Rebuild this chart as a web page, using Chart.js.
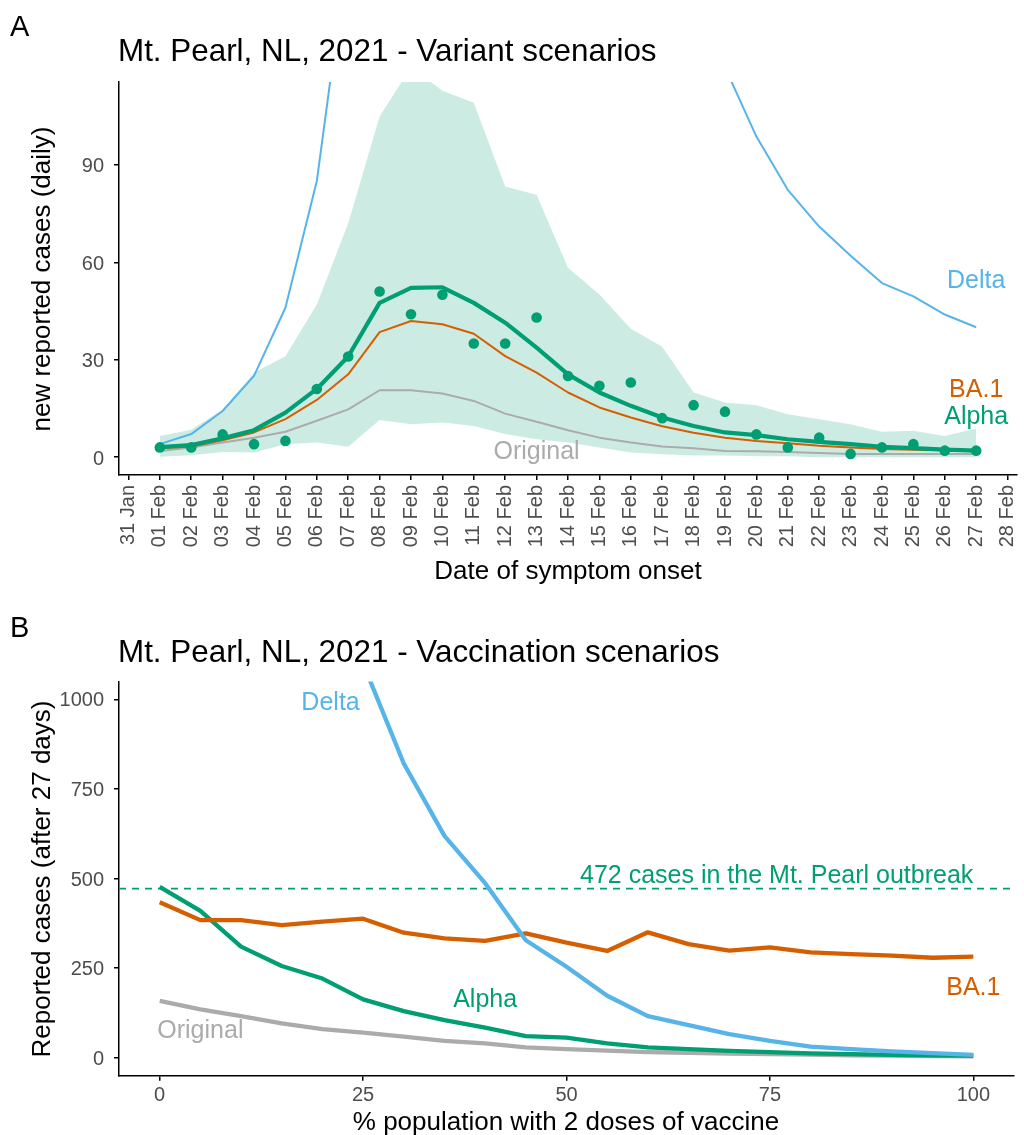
<!DOCTYPE html>
<html><head><meta charset="utf-8">
<script src="https://cdn.jsdelivr.net/npm/chart.js@4.4.1/dist/chart.umd.min.js"></script>
<style>
body{margin:0;background:#fff;width:1024px;height:1135px;position:relative;overflow:hidden;font-family:"Liberation Sans",Arial,sans-serif;}
.t{position:absolute;line-height:1;white-space:nowrap;color:#000;}
.c{transform:translateX(-50%);}
.r{transform:translate(-50%,-50%) rotate(-90deg);}
canvas{position:absolute;left:0;}
</style></head><body>
<canvas id="c1" width="1024" height="600" style="top:0;width:1024px;height:600px"></canvas>
<canvas id="c2" width="1024" height="535" style="top:600px;width:1024px;height:535px"></canvas>
<div class="t" style="left:10px;top:12px;font-size:29px">A</div>
<div class="t" style="left:118px;top:35.3px;font-size:31.4px">Mt. Pearl, NL, 2021 - Variant scenarios</div>
<div class="t r" style="left:41px;top:278.5px;font-size:26px">new reported cases (daily)</div>
<div class="t c" style="left:568px;top:557px;font-size:26px">Date of symptom onset</div>
<div class="t" style="left:10px;top:613px;font-size:29px">B</div>
<div class="t" style="left:118px;top:635.8px;font-size:31.4px">Mt. Pearl, NL, 2021 - Vaccination scenarios</div>
<div class="t r" style="left:41px;top:878.5px;font-size:26px">Reported cases (after 27 days)</div>
<div class="t c" style="left:566px;top:1108px;font-size:26px">% population with 2 doses of vaccine</div>
<script>
// ---------- Panel A data ----------
const tickLabelsA = ['31 Jan','01 Feb','02 Feb','03 Feb','04 Feb','05 Feb','06 Feb','07 Feb','08 Feb','09 Feb','10 Feb','11 Feb','12 Feb','13 Feb','14 Feb','15 Feb','16 Feb','17 Feb','18 Feb','19 Feb','20 Feb','21 Feb','22 Feb','23 Feb','24 Feb','25 Feb','26 Feb','27 Feb','28 Feb'];
const datesA = ['01 Feb','02 Feb','03 Feb','04 Feb','05 Feb','06 Feb','07 Feb','08 Feb','09 Feb','10 Feb','11 Feb','12 Feb','13 Feb','14 Feb','15 Feb','16 Feb','17 Feb','18 Feb','19 Feb','20 Feb','21 Feb','22 Feb','23 Feb','24 Feb','25 Feb','26 Feb','27 Feb'];
const alphaObserved = [3,3,7,4,5,21,31,51,44,50,35,35,43,25,22,23,12,16,14,7,3,6,1,3,4,2,2];
const alphaModel = [3.1,3.7,5.8,8.3,13.7,21,31,47.5,52.1,52.3,47.5,41.4,33.7,25.5,19.9,15.8,12.2,9.6,7.6,6.8,5.5,4.7,4.0,3.2,2.8,2.3,2.0];
const alphaUpper = [6.5,8.4,14.7,26,31.1,47,72,104.9,120,112.8,109.1,83.3,80.8,58.3,50.1,39.5,34,19.9,16.8,16,13.2,11.7,10.1,7.8,8.1,6.5,8.8];
const alphaLower = [0.1,0.6,1.6,1.4,4,4.5,3.2,11.4,10.1,10.7,9.6,7.1,5.5,4.5,3.0,1.4,0.9,0.5,0.5,0.3,0.3,0,0,0,0,0,0];
const ba1Model = [2.7,3.3,5.2,7.6,11.7,17.6,25.5,38.5,41.9,40.9,38.0,31.1,26.0,19.9,15.3,12.2,9.5,7.5,6.0,5.0,4.3,3.5,3.0,2.5,2.3,2.1,2.0];
const originalModel = [1.9,3.0,4.5,6.0,7.8,11.2,14.7,20.6,20.6,19.6,17.3,13.4,10.9,8.3,6.0,4.5,3.3,2.7,1.9,1.8,1.6,1.3,1.0,1.0,1.0,1.0,1.0];
const deltaModel = [4.0,7.1,14.2,25,46,85,157,230,290,320,325,310,280,245,210,180,155,135,120,98.7,82.3,71.0,62.0,53.6,49.5,43.9,40.0];
const yTicksA = [0,30,60,90];

// ---------- Panel B data ----------
const vaccinated = [0,5,10,15,20,25,30,35,40,45,50,55,60,65,70,75,80,85,90,95,100];
const alphaVacc = [477,410,310,256,221,163,130,105,84,60.5,56,40,29,24,19,16,12,10,8,7,6];
const ba1Vacc = [434,384,384,370,380,388,349,333,326,347,321,298,350,317,299,308,294,289,285,279,282];
const originalVacc = [159,135,116,96,80,70,59,47,40,29,24,20,16,14,12,10,9,7,6,5,4];
const deltaVacc = [2500,2200,1900,1600,1350,1100,821,619,487,328,254,173,116,91,66,47,31,24,18,13,8];
const outbreakCases = 472;
const xTicksB = [0,25,50,75,100];
const yTicksB = [0,250,500,750,1000];

const C = {alpha:'#009E73', ba1:'#D55E00', delta:'#56B4E9', original:'#ABABAB'};
const FONT = '"Liberation Sans", Arial, sans-serif';

const pts = (xs, ys) => ys.map((v,i)=>({x:xs[i], y:v}));
const xA = datesA.map(d => tickLabelsA.indexOf(d));

const labelPlugin = {
  id:'lbl',
  afterDatasetsDraw(chart, args, opts){
    const ctx = chart.ctx, sx = chart.scales.x, sy = chart.scales.y;
    ctx.save();
    for (const l of opts.items){
      ctx.font = l.size + 'px ' + FONT;
      ctx.fillStyle = l.color;
      ctx.textAlign = l.align || 'center';
      ctx.textBaseline = 'alphabetic';
      const xv = typeof l.x === 'string' ? tickLabelsA.indexOf(l.x) : l.x;
      ctx.fillText(l.text, sx.getPixelForValue(xv), sy.getPixelForValue(l.y));
    }
    ctx.restore();
  }
};

function axisCommon(){
  return {
    border:{display:true,color:'#000',width:1.5},
    grid:{display:true,drawOnChartArea:false,drawTicks:true,tickLength:5,color:'#000',tickColor:'#000',lineWidth:1.5,tickWidth:1.5},
    ticks:{color:'#4d4d4d',font:{family:FONT,size:20}}
  };
}
function noPad(s){ s.paddingLeft=0; s.paddingRight=0; s.paddingTop=0; s.paddingBottom=0; }

function line(data, color, width, order){
  return {type:'line', data, borderColor:color, borderWidth:width, pointRadius:0, tension:0, fill:false, order, borderJoinStyle:'round'};
}

// ---------- Chart A ----------
const xa = axisCommon();
xa.type='linear'; xa.min=-0.3; xa.max=28.3;
xa.ticks = Object.assign(xa.ticks,{minRotation:90,maxRotation:90,autoSkip:false,padding:5,callback:(v)=>tickLabelsA[v]});
xa.afterBuildTicks = s => { s.ticks = tickLabelsA.map((_,i)=>({value:i})); };
xa.afterFit = s => { s.height = 125; noPad(s); };
const ya = axisCommon();
ya.type='linear'; ya.min=-5.5; ya.max=115.5;
ya.ticks.padding = 10;
ya.ticks.labelOffset = 2;
ya.ticks.callback = v => String(v);
ya.afterBuildTicks = s => { s.ticks = yTicksA.map(v=>({value:v})); };
ya.afterFit = s => { s.width = 119; noPad(s); };

new Chart(document.getElementById('c1'), {
  type:'line',
  data:{datasets:[
    {type:'line', data:pts(xA, alphaLower), borderWidth:0, pointRadius:0, fill:false, order:9},
    {type:'line', data:pts(xA, alphaUpper), borderWidth:0, pointRadius:0, fill:'-1', backgroundColor:'rgba(0,158,115,0.2)', order:8},
    line(pts(xA, originalModel), C.original, 2, 5),
    line(pts(xA, ba1Model), C.ba1, 2, 4),
    line(pts(xA, deltaModel), C.delta, 2, 3),
    line(pts(xA, alphaModel), C.alpha, 4.2, 2),
    {type:'scatter', data:pts(xA, alphaObserved), showLine:false, pointRadius:5.3, pointBackgroundColor:C.alpha, pointBorderWidth:0, order:1}
  ]},
  options:{
    responsive:false, animation:false, devicePixelRatio:1,
    layout:{padding:{top:82,right:7,left:0,bottom:0}},
    plugins:{legend:{display:false}, tooltip:{enabled:false},
      lbl:{items:[
        {text:'Delta', x:'27 Feb', y:52.1, color:C.delta, size:25},
        {text:'BA.1', x:'27 Feb', y:18.4, color:C.ba1, size:25},
        {text:'Alpha', x:'27 Feb', y:10.3, color:C.alpha, size:25},
        {text:'Original', x:'13 Feb', y:-0.6, color:C.original, size:25}
      ]}},
    scales:{x:xa, y:ya}
  },
  plugins:[labelPlugin]
});

// ---------- Chart B ----------
const xb = axisCommon();
xb.type='linear'; xb.min=-5; xb.max=105;
xb.ticks.padding = 3;
xb.ticks.callback = v => String(v);
xb.afterBuildTicks = s => { s.ticks = xTicksB.map(v=>({value:v})); };
xb.afterFit = s => { s.height = 59.3; noPad(s); };
const yb = axisCommon();
yb.type='linear'; yb.min=-50; yb.max=1050;
yb.ticks.padding = 10;
yb.ticks.labelOffset = 1.5;
yb.ticks.callback = v => String(v);
yb.afterBuildTicks = s => { s.ticks = yTicksB.map(v=>({value:v})); };
yb.afterFit = s => { s.width = 119; noPad(s); };

new Chart(document.getElementById('c2'), {
  type:'line',
  data:{datasets:[
    {type:'line', data:[{x:-5,y:outbreakCases},{x:105,y:outbreakCases}], borderColor:C.alpha, borderWidth:1.6, borderDash:[7,6], pointRadius:0, fill:false, order:9},
    line(pts(vaccinated, originalVacc), C.original, 4.3, 5),
    line(pts(vaccinated, alphaVacc), C.alpha, 4.3, 4),
    line(pts(vaccinated, ba1Vacc), C.ba1, 4.3, 3),
    line(pts(vaccinated, deltaVacc), C.delta, 4.3, 2)
  ]},
  options:{
    responsive:false, animation:false, devicePixelRatio:1,
    layout:{padding:{top:81.4,right:10,left:0,bottom:0}},
    plugins:{legend:{display:false}, tooltip:{enabled:false},
      lbl:{items:[
        {text:'472 cases in the Mt. Pearl outbreak', x:100, y:487.4, color:C.alpha, size:25, align:'right'},
        {text:'Delta', x:21, y:970, color:C.delta, size:25},
        {text:'Alpha', x:40, y:142, color:C.alpha, size:25},
        {text:'BA.1', x:100, y:175, color:C.ba1, size:25},
        {text:'Original', x:5, y:54, color:C.original, size:25}
      ]}},
    scales:{x:xb, y:yb}
  },
  plugins:[labelPlugin]
});
</script>
</body></html>
